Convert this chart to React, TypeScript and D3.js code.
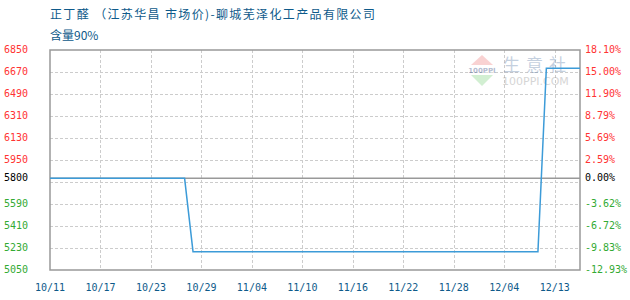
import React from "react";
import * as d3 from "d3";

// Price series: change points of the daily quote (linear between points)
const dates = ["2021-10-11", "2021-10-27", "2021-10-28", "2021-12-08", "2021-12-09", "2021-12-13"];
const prices = [5800, 5800, 5200, 5200, 6700, 6700];

// Reference price for the percentage axis
const basePrice = 5800;

// Left axis ticks (every 180 from the bottom), the 5770 step is replaced by the base price label
const gridValues = [5050, 5230, 5410, 5590, 5770, 5950, 6130, 6310, 6490, 6670, 6850];
const leftLabels = [5050, 5230, 5410, 5590, 5800, 5950, 6130, 6310, 6490, 6670, 6850];

// X axis ticks: every 6 days, the last tick carries the end date of the range
const tickDates = ["2021-10-11", "2021-10-17", "2021-10-23", "2021-10-29", "2021-11-04", "2021-11-10",
  "2021-11-16", "2021-11-22", "2021-11-28", "2021-12-04", "2021-12-10"];
const tickLabels = ["10/11", "10/17", "10/23", "10/29", "11/04", "11/10", "11/16", "11/22", "11/28", "12/04", "12/13"];

const title = "正丁醛 （江苏华昌 市场价)-聊城芜泽化工产品有限公司";
const subtitle = "含量90%";

const W = 630;
const H = 300;
const left = 50;
const right = 580;
const top = 50;
const bottom = 270;

const parse = d3.timeParse("%Y-%m-%d");
const mono = "'DejaVu Sans Mono', monospace";
const cjk = "'Noto Sans CJK SC', 'Noto Sans', sans-serif";

const colorFor = (v: number) => (v > basePrice ? "#ff3333" : v < basePrice ? "#33aa33" : "#000000");

export default function App() {
  const x = d3
    .scaleTime()
    .domain([parse("2021-10-11") as Date, parse("2021-12-13") as Date])
    .range([left, right]);
  const y = d3.scaleLinear().domain([5050, 6850]).range([bottom, top]);

  const pts: [Date, number][] = dates.map((d, i) => [parse(d) as Date, prices[i]]);
  const line = d3
    .line<[Date, number]>()
    .x((d) => x(d[0]))
    .y((d) => y(d[1]));

  const pct = (v: number) => (((v - basePrice) / basePrice) * 100).toFixed(2) + "%";

  return (
    <svg width={W} height={H} style={{ position: "absolute", left: 0, top: 0, background: "#fff" }}>
      {/* titles */}
      <text x={50} y={19} fontFamily={cjk} fontSize={12} fill="#0e5a8a" textLength={325} lengthAdjust="spacing">
        {title}
      </text>
      <text x={50} y={40} fontFamily={cjk} fontSize={12} fill="#0e5a8a">
        {subtitle}
      </text>

      {/* horizontal grid */}
      {gridValues.slice(1, -1).map((v) => (
        <line key={"h" + v} x1={left} x2={right} y1={Math.round(y(v)) + 0.5} y2={Math.round(y(v)) + 0.5}
          stroke="#cccccc" strokeDasharray="3,2" />
      ))}
      {/* vertical grid */}
      {tickDates.slice(1).map((d) => {
        const px = Math.round(x(parse(d) as Date)) + 0.5;
        return <line key={"v" + d} x1={px} x2={px} y1={top} y2={bottom} stroke="#cccccc" strokeDasharray="3,2" />;
      })}

      {/* watermark */}
      <g opacity={0.35}>
        <polygon points="471,65 493,65 482,55" fill="#f08080" />
        <rect x={471} y={66} width={22} height={8} fill="#ffffff" />
        <text x={482} y={73} textAnchor="middle" fontFamily="'DejaVu Sans', sans-serif" fontSize={7} fontWeight="bold" fill="#2a3f7a">
          100PPI
        </text>
        <polygon points="471,75 493,75 482,86" fill="#7fd27f" />
        <text x={503} y={71} fontFamily={cjk} fontSize={17} fill="#5a7aa6" letterSpacing={6}>
          生意社
        </text>
        <text x={502} y={85} fontFamily="'DejaVu Sans', sans-serif" fontSize={11} fill="#888888">
          100PPI.COM
        </text>
      </g>

      {/* base price line */}
      <line x1={left} x2={right} y1={y(basePrice)} y2={y(basePrice)} stroke="#999999" strokeWidth={1.5} />

      {/* plot border */}
      <rect x={left} y={top} width={right - left} height={bottom - top} fill="none" stroke="#999999" strokeWidth={1.5} />

      {/* price line */}
      <path d={line(pts) ?? ""} fill="none" stroke="#3c9bd8" strokeWidth={1.5} />

      {/* left axis labels */}
      {leftLabels.map((v) => (
        <text key={"l" + v} x={28} y={y(v) + 2.5} textAnchor="end" fontFamily={mono} fontSize={10} fill={colorFor(v)}>
          {v}
        </text>
      ))}
      {/* right axis labels */}
      {leftLabels.map((v) => (
        <text key={"r" + v} x={585} y={y(v) + 2.5} fontFamily={mono} fontSize={10} fill={colorFor(v)}>
          {pct(v)}
        </text>
      ))}

      {/* x axis labels */}
      {tickDates.map((d, i) => (
        <text key={"x" + d} x={x(parse(d) as Date)} y={290.5} textAnchor="middle" fontFamily={mono} fontSize={10} fill="#0e5a8a">
          {tickLabels[i]}
        </text>
      ))}
    </svg>
  );
}
